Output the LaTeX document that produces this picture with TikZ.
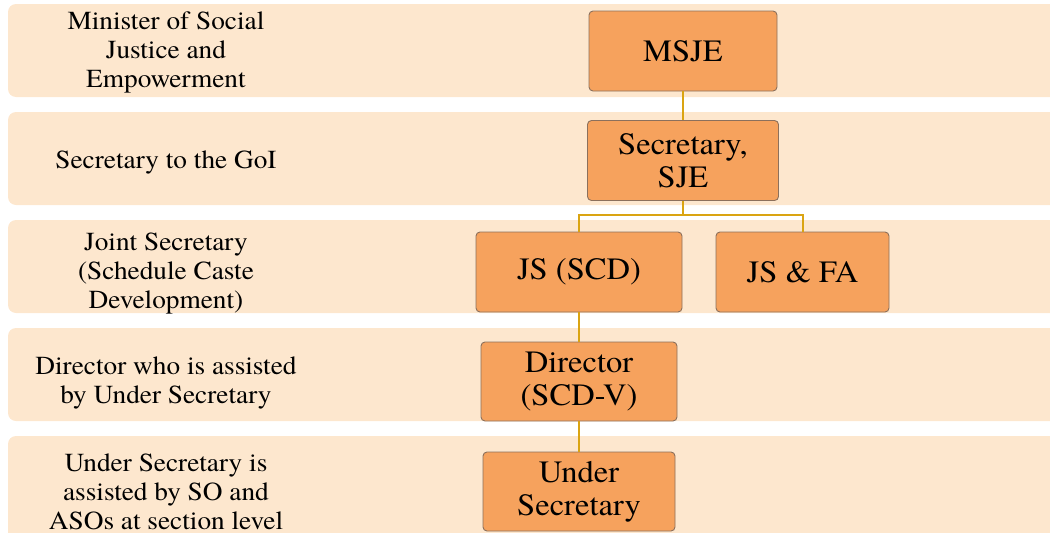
\documentclass[tikz,border=0pt]{standalone}
\usepackage{fontspec}
\setmainfont{texgyretermes-regular.otf}[FakeStretch=1.05]
\usetikzlibrary{positioning}
\definecolor{bandfill}{RGB}{253,231,206}
\definecolor{boxfill}{RGB}{246,162,93}
\definecolor{boxline}{RGB}{140,112,92}
\definecolor{linkcol}{RGB}{218,164,18}
\tikzset{
  band/.style={fill=bandfill, rounded corners=8pt},
  post/.style={draw=boxline, fill=boxfill, rounded corners=4pt, line width=0.9pt, align=center, inner sep=0pt,
    font=\fontsize{31}{33}\selectfont},
  role/.style={align=center, font=\fontsize{26}{28.8}\selectfont},
  link/.style={draw=linkcol, line width=2pt}
}
\begin{document}
\begin{tikzpicture}[x=1pt,y=-1pt]
  \useasboundingbox (0,0) rectangle (1050,533);
  \begin{scope}
    \clip (0,0) rectangle (1050,533);
    \fill[band] (8,4) rectangle (1070,97);
    \fill[band] (8,112) rectangle (1070,205);
    \fill[band] (8,220) rectangle (1070,313);
    \fill[band] (8,328) rectangle (1070,421);
    \fill[band] (8,436) rectangle (1070,550);
  \end{scope}
  % levels on the left
  \node[role] (t1) at (166,52.5) {Minister of Social\\Justice and\\Empowerment};
  \node[role] (t2) at (166,162) {Secretary to the GoI};
  \node[role] (t3) at (166,273.5) {Joint Secretary\\(Schedule Caste\\Development)};
  \node[role] (t4) at (166,383) {Director who is assisted\\by Under Secretary};
  \node[role] (t5) at (166,492) {Under Secretary is\\assisted by SO and\\ASOs at section level};
  % posts
  \node[post, minimum width=188pt, minimum height=80pt] (msje) at (683,51) {MSJE};
  \node[post, minimum width=191pt, minimum height=80pt] (sec) at (683,160.5) {Secretary,\\SJE};
  \node[post, minimum width=206pt, minimum height=80pt] (jsscd) at (579,272) {JS (SCD)};
  \node[post, minimum width=173pt, minimum height=80pt] (jsfa) at (802.5,272) {JS \& FA};
  \node[post, minimum width=196pt, minimum height=79pt] (dir) at (579,381.5) {Director\\(SCD-V)};
  \node[post, minimum width=192pt, minimum height=79pt] (us) at (579,491.5) {Under\\Secretary};
  \coordinate (bar) at (683,215);
  % links
  \draw[link] (msje) -- (sec);
  \draw[link] (sec) -- (bar);
  \draw[link] (jsscd.north) |- (bar) -| (jsfa.north);
  \draw[link] (jsscd) -- (dir);
  \draw[link] (dir) -- (us);
\end{tikzpicture}
\end{document}
